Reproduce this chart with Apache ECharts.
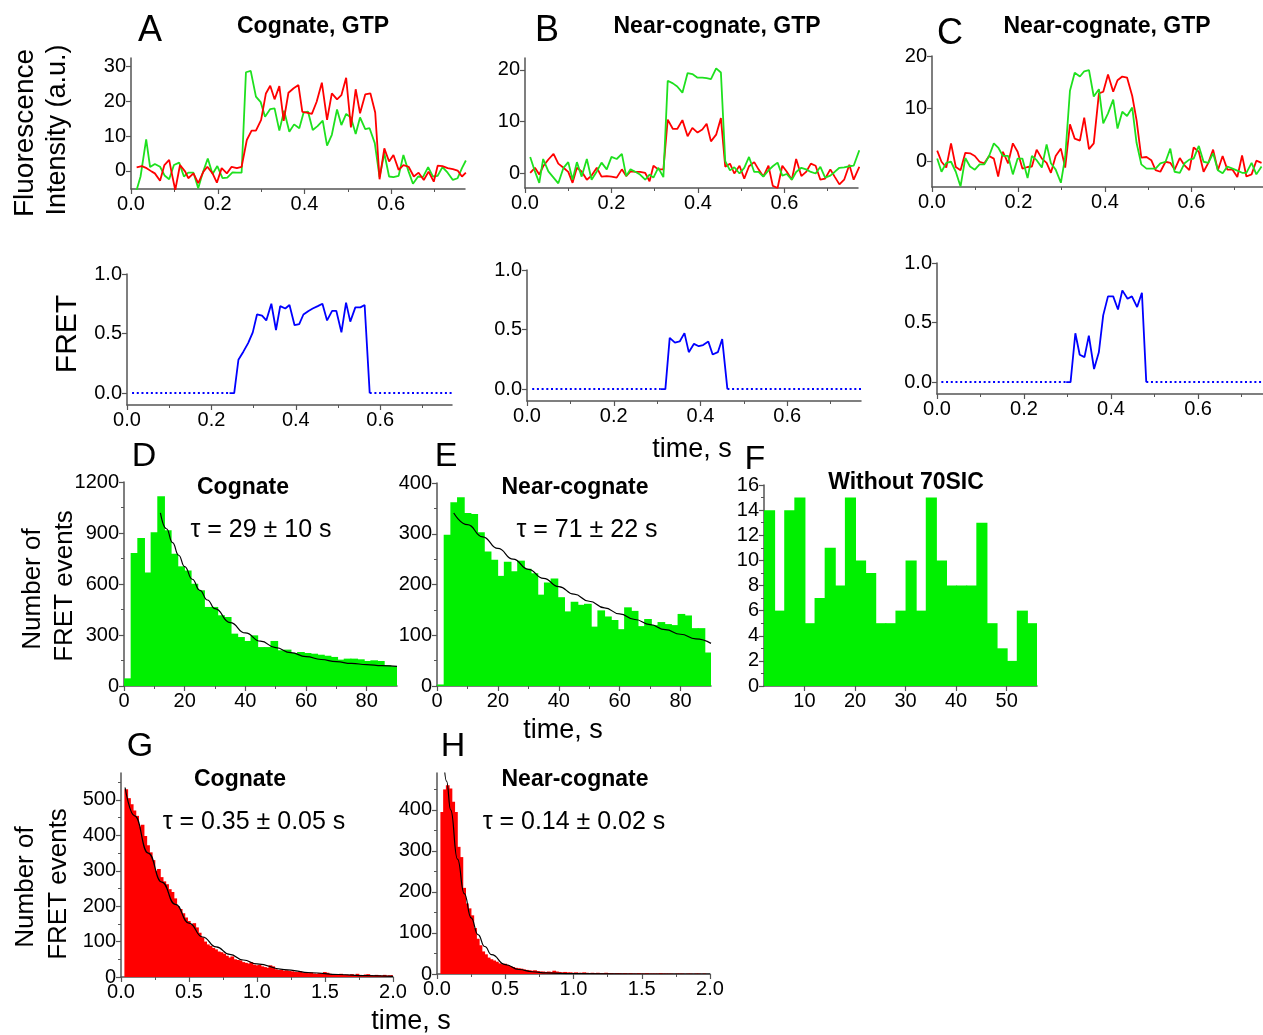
<!DOCTYPE html>
<html>
<head>
<meta charset="utf-8">
<script src="https://cdn.jsdelivr.net/npm/echarts@6/dist/echarts.min.js"></script>
<style>
  html, body { margin: 0; padding: 0; background: #fff; }
  #main { width: 1263px; height: 1035px; }
</style>
</head>
<body>
<div id="main"></div>
<script>
// ---- panel A, fluorescence (cognate) ----
var tA_red = [0.013,0.025,0.036,0.048,0.055,0.067,0.077,0.088,0.094,0.102,0.113,0.125,0.132,0.144,0.155,0.167,0.176,0.188,0.198,0.209,0.221,0.232,0.244,0.255,0.267,0.278,0.288,0.3,0.311,0.321,0.331,0.342,0.352,0.363,0.375,0.386,0.395,0.405,0.417,0.428,0.44,0.452,0.463,0.475,0.485,0.496,0.507,0.518,0.528,0.54,0.552,0.563,0.573,0.584,0.595,0.605,0.617,0.628,0.64,0.652,0.663,0.675,0.686,0.698,0.707,0.718,0.73,0.742,0.753,0.763,0.772];
var redA = [1.0,1.4,0.8,-0.2,-0.7,-2.8,1.7,3.2,-0.7,-5.5,1.7,-0.2,-2.1,-0.7,-3.5,-0.2,1.2,-0.7,-3.4,0.8,-0.7,1.2,0.8,1.2,8.9,11.6,11.6,14.7,22.3,24.5,20.6,24.4,14.4,22.5,23.8,24.7,17,16.8,16.4,19.9,25.4,14.7,22.3,20.6,21.8,26.8,12.5,23.5,16.6,22,22.3,16.8,-2.4,6.5,2.7,4.6,0.3,1.7,1.2,-1.6,-0.5,-2.6,-0.2,-3.1,1.5,1.4,0.8,0.5,0.1,-1.6,-0.5];
var tA_green = [0.013,0.022,0.035,0.044,0.055,0.067,0.078,0.088,0.099,0.111,0.122,0.132,0.144,0.155,0.165,0.177,0.188,0.199,0.211,0.222,0.234,0.244,0.255,0.265,0.276,0.288,0.299,0.309,0.321,0.331,0.342,0.353,0.365,0.376,0.388,0.398,0.408,0.419,0.43,0.442,0.452,0.463,0.475,0.485,0.496,0.507,0.518,0.528,0.54,0.55,0.562,0.573,0.584,0.595,0.605,0.617,0.628,0.64,0.65,0.662,0.673,0.685,0.696,0.707,0.718,0.73,0.742,0.753,0.763,0.772];
var greenA = [-5.5,-1.6,9.1,1.1,2.0,1.2,-1.4,-2.4,1.7,2.4,-1.6,-0.5,-0.5,-5.0,-0.7,3.6,-0.9,1.4,-2.1,-1.9,-0.4,-0.5,-0.5,28.4,28.8,21.4,19.8,15.6,17.8,18.0,11.6,17.3,11.3,13.4,12.3,16.8,17.1,11.8,12.9,14.5,7.3,10.4,17.7,13.2,16.4,15.4,10.6,15.4,12.0,12.3,8.0,-1.8,5.1,-1.6,-1.8,-1.4,4.6,-0.2,-3.7,-1.6,-1.8,1.1,-1.6,-1.4,1.1,-0.5,-2.6,-2.1,0.8,3.0];

// ---- panel B, fluorescence (near-cognate) ----
var tB = [0.012,0.023,0.033,0.042,0.054,0.066,0.077,0.089,0.1,0.11,0.12,0.131,0.143,0.154,0.166,0.177,0.189,0.2,0.212,0.224,0.234,0.244,0.256,0.266,0.278,0.288,0.297,0.308,0.32,0.33,0.342,0.352,0.364,0.376,0.387,0.399,0.41,0.42,0.43,0.442,0.453,0.463,0.474,0.484,0.496,0.507,0.518,0.53,0.54,0.551,0.563,0.573,0.584,0.595,0.605,0.617,0.627,0.639,0.65,0.661,0.672,0.683,0.694,0.706,0.716,0.727,0.738,0.75,0.76,0.773];
var redB = [0.1,1.1,-0.2,1.4,2.7,3.8,1.9,1.1,0.3,-1.8,1.1,0.4,-1.2,-0.4,1.1,-0.6,-0.5,-0.6,-0.8,0.8,-0.5,0.4,0.3,0.3,0.1,-1.5,1.5,0.8,0.8,10.4,8.6,8.6,10.3,7.2,8.8,7.9,8.5,9.6,6.2,7.5,10.7,1.3,1.9,0,1.5,-1.0,1.4,2.2,0.8,-0.6,1.5,-2.4,-2.8,1.5,0.4,-1.2,2.8,-0.5,0.3,1.9,1.5,-1.2,-1.0,0.8,-0.6,-2.1,-1.2,1.7,-1.2,1.3];
var greenB = [3.2,0.4,-1.8,2.8,0.4,-0.8,-1.9,1.1,2.2,-1.2,2.2,-0.6,2.8,-1.2,0.4,2.1,0.8,3.2,2.8,3.8,-0.5,0.8,0.3,-0.2,-1.2,-0.2,-0.8,1.1,-0.7,17.9,17.4,16.8,15.6,19.4,19.2,18.5,18.5,18.4,18.2,20.3,19.5,2.4,0.6,1.2,0,1.1,3.2,0.3,0.3,-0.6,0.6,1.4,2.1,-0.4,-0.1,-1.2,0.3,1.1,0.8,0.3,0,1.3,-0.8,-0.4,0.3,1.1,1.2,1.4,1.5,4.5];

// ---- panel C, fluorescence (near-cognate) ----
var tC = [0.012,0.022,0.033,0.044,0.055,0.066,0.077,0.088,0.099,0.11,0.121,0.132,0.143,0.153,0.164,0.176,0.187,0.198,0.209,0.221,0.231,0.242,0.254,0.265,0.275,0.286,0.298,0.308,0.319,0.33,0.342,0.352,0.363,0.374,0.386,0.396,0.407,0.419,0.429,0.44,0.451,0.463,0.473,0.484,0.496,0.507,0.517,0.528,0.54,0.551,0.561,0.573,0.584,0.595,0.605,0.617,0.628,0.639,0.65,0.661,0.672,0.683,0.695,0.706,0.717,0.727,0.739,0.75,0.762];
var redC = [2.0,-0.1,-1.2,3.4,-1.1,-1.7,1.6,1.5,1.0,-0.1,-0.4,1.0,0.5,-2.9,1.8,-0.4,3.4,1.8,-1.4,-1.1,-1.0,2.2,0.5,-0.3,-2.2,1.0,2.4,-1.2,7.0,4.3,3.9,8.3,2.3,3.4,12.9,13.2,16.5,13.2,15.4,16.1,15.9,12.4,7.8,0.7,0.8,0.2,-1.7,-2.0,-0.1,-0.3,-1.6,0.6,-0.8,-1.7,2.6,1.8,-2.0,-0.3,2.2,-1.7,1.0,-1.6,-1.6,-3.0,1.1,-2.9,-2.5,0.1,-0.3];
var greenC = [0.5,-2.0,-0.3,-0.1,-2.0,-4.8,0.6,-1.0,-1.6,-0.6,-0.6,1.0,3.4,2.6,1.0,1.0,-2.5,0.5,0.5,-3.2,1.0,0.2,-1.2,3.2,-0.4,-1.6,-4.1,0.8,13.4,16.8,16.1,17.1,17.3,12.3,13.7,7.2,9.1,11.7,6.2,9.4,8.6,10.2,3.5,-0.6,-1.4,-1.4,-1.4,-0.4,-0.1,2.4,-2.0,-2.2,-0.4,0.3,0.5,2.9,-0.1,-0.3,1.5,-1.7,-2.3,-1.0,-1.4,-1.8,-2.2,-2.2,-0.3,-2.5,-1.0];

// ---- FRET traces (solid part) and zero baselines (dotted) ----
var tFretA = [0.243,0.254,0.264,0.276,0.287,0.298,0.308,0.32,0.33,0.342,0.353,0.363,0.375,0.385,0.397,0.408,0.418,0.43,0.44,0.452,0.463,0.474,0.486,0.496,0.508,0.519,0.529,0.541,0.553,0.563,0.575];
var fretA = [0,0,0.28,0.35,0.42,0.51,0.66,0.65,0.61,0.75,0.53,0.73,0.71,0.74,0.57,0.58,0.66,0.69,0.71,0.73,0.75,0.61,0.69,0.69,0.51,0.76,0.6,0.72,0.72,0.74,0];
var tFretB = [0.308,0.319,0.329,0.341,0.352,0.363,0.373,0.385,0.396,0.406,0.418,0.428,0.44,0.45,0.462];
var fretB = [0,0,0.43,0.39,0.4,0.47,0.31,0.38,0.36,0.37,0.4,0.29,0.31,0.42,0];
var tFretC = [0.297,0.307,0.318,0.328,0.339,0.349,0.361,0.372,0.382,0.393,0.405,0.416,0.426,0.438,0.448,0.46,0.471,0.481];
var fretC = [0,0,0.41,0.23,0.21,0.39,0.11,0.25,0.56,0.72,0.72,0.61,0.77,0.7,0.72,0.63,0.75,0];
var baseA = [[0.012, 0.243], [0.575, 0.77]];
var baseB = [[0.012, 0.308], [0.462, 0.77]];
var baseC = [[0.01, 0.297], [0.481, 0.77]];

// ---- D, E: dwell-time histograms (41 bins over 0..90 s) ----
var binsDE = 41;
var countsD = [45,782,870,667,904,1116,916,778,704,680,602,563,465,465,416,406,308,288,265,298,229,229,265,210,214,194,200,194,190,184,178,171,155,161,161,157,147,151,147,122,116];
var countsE = [3,298,362,372,341,339,303,265,249,217,245,226,247,231,222,180,204,212,175,147,166,160,162,117,149,137,130,112,155,148,118,132,120,126,122,120,142,139,114,114,66];
var fitDx = [12,14,16,18,20,22.5,25,27.5,30,35,40,45,50,55,60,65,70,75,80,85,90];
var fitDy = [1018,925,843,769,702,628,563,506,455,373,312,264,226,196,173,156,143,133,126,120,115];
var fitEx = [5.5,10,15,20,25,30,35,40,45,50,55,60,65,70,75,80,85,90];
var fitEy = [341,318,294,271,250,230,212,196,181,167,154,142,131,121,111,102,93,84];

// ---- F: without 70SIC (bins of 2 s from 2 to 56) ----
var startF = 2, widthF = 2;
var countsF = [14,6,14,15,5,7,11,8,15,10,9,5,5,6,10,6,15,10,8,8,8,13,5,3,2,6,5];

// ---- G, H: short dwell histograms (bins of 0.02 s) ----
var startGH = 0.025, widthGH = 0.02;
var countsG = [530,505,488,470,455,425,430,398,372,352,330,300,305,282,270,262,248,240,222,200,192,180,168,158,148,152,140,125,112,100,92,88,82,78,72,70,66,60,55,58,50,48,47,42,40,38,42,35,33,34,30,28,26,33,30,22,20,21,18,19,17,16,15,14,16,13,12,11,13,10,9,11,10,14,12,9,8,8,7,9,6,7,6,8,5,9,6,5,7,8,5,4,6,5,4,6,4,5,5];
var countsH = [395,450,460,452,420,395,310,285,210,172,160,143,112,86,70,55,48,40,36,33,30,26,24,25,22,19,17,15,14,13,11,10,9,8,9,7,6,6,5,6,5,8,6,5,4,5,4,4,3,4,3,3,4,3,2,3,2,3,2,2,3,2,2,1,2,2,1,2,1,2,1,1,2,1,1,2,1,1,1,1,2,1,1,1,1,0,1,1,1,0,1,1,0,1,1,0,1,0,0];
var fitGx = [0.03,0.1,0.2,0.3,0.4,0.5,0.6,0.7,0.8,0.9,1.0,1.2,1.4,1.6,1.8,2.0];
var fitGy = [535,455,350,268,205,152,113,85,64,48,37,21,12,7,4,2];
var fitHx = [0.05,0.07,0.1,0.15,0.2,0.25,0.3,0.35,0.4,0.5,0.6,0.7,0.8,1.0,1.5,2.0];
var fitHy = [520,470,400,280,196,137,96,67,47,23,11,5.5,2.7,0.7,0,0];

// ---- tick labels ----
var ticksTime = [0, 0.2, 0.4, 0.6];
var ticksFluoA = [0, 10, 20, 30];
var ticksFluoBC = [0, 10, 20];
var ticksFret = [0, 0.5, 1.0];
var ticksDEx = [0, 20, 40, 60, 80];
var ticksFx = [10, 20, 30, 40, 50];
var ticksGHx = [0, 0.5, 1.0, 1.5, 2.0];
var ticksDy = [0, 300, 600, 900, 1200];
var ticksEy = [0, 100, 200, 300, 400];
var ticksFy = [0, 2, 4, 6, 8, 10, 12, 14, 16];
var ticksGy = [0, 100, 200, 300, 400, 500];
var ticksHy = [0, 100, 200, 300, 400];

var FONT = '"Liberation Sans", Arial, sans-serif';
var AXC = '#555';
var RED = '#ff0000', GREEN = '#1ee01e', BAR_GREEN = '#00f000', BLUE = '#0000ff';

function zip(xs, ys) {
  return xs.map(function (x, i) { return [x, ys[i]]; });
}

function axis(g, min, max, interval, labels, digits, minor) {
  var a = {
    type: 'value', gridIndex: g, min: min, max: max,
    axisLine: { show: true, onZero: false, lineStyle: { color: AXC, width: 1.5 } },
    axisTick: { show: true, length: 5, customValues: labels, lineStyle: { color: AXC, width: 1.2 } },
    minorTick: { show: !!minor, splitNumber: 2, length: 3, lineStyle: { color: AXC, width: 1 } },
    splitLine: { show: false },
    minorSplitLine: { show: false },
    axisLabel: {
      customValues: labels, color: '#000', fontSize: 20, fontFamily: FONT, margin: 5,
      formatter: function (v) { return Number(v).toFixed(digits); }
    }
  };
  if (interval) a.interval = interval;
  return a;
}

function trace(g, data, color) {
  return {
    type: 'line', xAxisIndex: g, yAxisIndex: g, data: data, showSymbol: false,
    lineStyle: { color: color, width: 1.8 }, itemStyle: { color: color }, clip: true
  };
}

function baseline(g, seg) {
  return {
    type: 'line', xAxisIndex: g, yAxisIndex: g, data: [[seg[0], 0], [seg[1], 0]], showSymbol: false,
    lineStyle: { color: BLUE, width: 2, type: [2, 2.7], cap: 'butt' }, clip: true
  };
}

function hist(g, start, width, counts, color) {
  var data = counts.map(function (c, i) { return [start + i * width, start + (i + 1) * width, c]; });
  return {
    type: 'custom', xAxisIndex: g, yAxisIndex: g, data: data, clip: true,
    encode: { x: [0, 1], y: 2 },
    renderItem: function (params, api) {
      var p0 = api.coord([api.value(0), api.value(2)]);
      var p1 = api.coord([api.value(1), 0]);
      return {
        type: 'rect',
        shape: { x: p0[0], y: p0[1], width: p1[0] - p0[0] + 1, height: p1[1] - p0[1] },
        style: { fill: color }
      };
    }
  };
}

function fit(g, xs, ys) {
  return {
    type: 'line', xAxisIndex: g, yAxisIndex: g, data: zip(xs, ys), showSymbol: false,
    smooth: 0.5, smoothMonotone: 'x', clip: true, z: 5,
    lineStyle: { color: '#000', width: 1.2 }
  };
}

function txt(x, y, s, size, bold, rot) {
  return {
    type: 'text', x: x, y: y, rotation: rot || 0, silent: true,
    style: {
      text: s, font: (bold ? 'bold ' : '') + size + 'px ' + FONT, fill: '#000',
      align: 'center', verticalAlign: 'middle', textAlign: 'center', textVerticalAlign: 'middle'
    }
  };
}

var grids = [
  { left: 131, top: 58, width: 334, height: 131 },   // A fluo
  { left: 525, top: 58, width: 333, height: 130 },   // B fluo
  { left: 932, top: 56, width: 333, height: 131 },   // C fluo
  { left: 127, top: 274, width: 325, height: 131 },  // A FRET
  { left: 527, top: 270, width: 334, height: 131 },  // B FRET
  { left: 937, top: 263, width: 335, height: 131 },  // C FRET
  { left: 124, top: 482, width: 273, height: 204 },  // D
  { left: 437, top: 483, width: 274, height: 203 },  // E
  { left: 764, top: 485, width: 273, height: 201 },  // F
  { left: 121, top: 773, width: 272, height: 204 },  // G
  { left: 437, top: 773, width: 273, height: 201 }   // H
];
grids.forEach(function (g) { g.outerBoundsMode = 'none'; g.containLabel = false; });

var xAxes = [
  axis(0, 0, 0.77, 0.2, ticksTime, 1, true),
  axis(1, 0, 0.77, 0.2, ticksTime, 1, true),
  axis(2, 0, 0.77, 0.2, ticksTime, 1, true),
  axis(3, 0, 0.77, 0.2, ticksTime, 1, true),
  axis(4, 0, 0.77, 0.2, ticksTime, 1, true),
  axis(5, 0, 0.77, 0.2, ticksTime, 1, true),
  axis(6, 0, 90, 20, ticksDEx, 0, true),
  axis(7, 0, 90, 20, ticksDEx, 0, true),
  axis(8, 2, 56, null, ticksFx, 0, false),
  axis(9, 0, 2, 0.5, ticksGHx, 1, true),
  axis(10, 0, 2, 0.5, ticksGHx, 1, true)
];
var yAxes = [
  axis(0, -5.2, 32.5, null, ticksFluoA, 0, false),
  axis(1, -2.8, 22.3, null, ticksFluoBC, 0, false),
  axis(2, -4.9, 20, null, ticksFluoBC, 0, false),
  axis(3, -0.1, 1.0, null, ticksFret, 1, false),
  axis(4, -0.1, 1.0, null, ticksFret, 1, false),
  axis(5, -0.1, 1.0, null, ticksFret, 1, false),
  axis(6, 0, 1200, 300, ticksDy, 0, true),
  axis(7, 0, 400, 100, ticksEy, 0, true),
  axis(8, 0, 16, 2, ticksFy, 0, true),
  axis(9, 0, 576, 100, ticksGy, 0, true),
  axis(10, 0, 490, 100, ticksHy, 0, true)
];

var series = [
  trace(0, zip(tA_green, greenA), GREEN),
  trace(0, zip(tA_red, redA), RED),
  trace(1, zip(tB, redB), RED),
  trace(1, zip(tB, greenB), GREEN),
  trace(2, zip(tC, redC), RED),
  trace(2, zip(tC, greenC), GREEN),
  baseline(3, baseA[0]), baseline(3, baseA[1]), trace(3, zip(tFretA, fretA), BLUE),
  baseline(4, baseB[0]), baseline(4, baseB[1]), trace(4, zip(tFretB, fretB), BLUE),
  baseline(5, baseC[0]), baseline(5, baseC[1]), trace(5, zip(tFretC, fretC), BLUE),
  hist(6, 0, 90 / binsDE, countsD, BAR_GREEN), fit(6, fitDx, fitDy),
  hist(7, 0, 90 / binsDE, countsE, BAR_GREEN), fit(7, fitEx, fitEy),
  hist(8, startF, widthF, countsF, BAR_GREEN),
  hist(9, startGH, widthGH, countsG, RED), fit(9, fitGx, fitGy),
  hist(10, startGH, widthGH, countsH, RED), fit(10, fitHx, fitHy)
];

var R = Math.PI / 2;
var graphics = [
  txt(150, 31, 'A', 36), txt(547, 31, 'B', 36), txt(950, 34, 'C', 36),
  txt(144, 457, 'D', 34), txt(446, 457, 'E', 34), txt(755, 460, 'F', 34),
  txt(140, 747, 'G', 34), txt(453, 747, 'H', 34),
  txt(313, 27, 'Cognate, GTP', 23, true),
  txt(717, 27, 'Near-cognate, GTP', 23, true),
  txt(1107, 27, 'Near-cognate, GTP', 23, true),
  txt(243, 488, 'Cognate', 23, true),
  txt(575, 488, 'Near-cognate', 23, true),
  txt(906, 483, 'Without 70SIC', 23, true),
  txt(240, 780, 'Cognate', 23, true),
  txt(575, 780, 'Near-cognate', 23, true),
  txt(261, 530, '\u03c4 = 29 \u00b1 10 s', 25),
  txt(587, 530, '\u03c4 = 71 \u00b1 22 s', 25),
  txt(254, 822, '\u03c4 = 0.35 \u00b1 0.05 s', 25),
  txt(574, 822, '\u03c4 = 0.14 \u00b1 0.02 s', 25),
  txt(25, 133, 'Fluorescence', 28, false, R),
  txt(58, 130, 'Intensity (a.u.)', 27, false, R),
  txt(68, 334, 'FRET', 30, false, R),
  txt(33, 589, 'Number of', 26, false, R),
  txt(65, 586, 'FRET events', 26, false, R),
  txt(26, 887, 'Number of', 26, false, R),
  txt(59, 884, 'FRET events', 26, false, R),
  txt(692, 450, 'time, s', 27),
  txt(563, 731, 'time, s', 27),
  txt(411, 1022, 'time, s', 27)
];

var chart = echarts.init(document.getElementById('main'), null, { renderer: 'canvas' });
chart.setOption({
  animation: false,
  backgroundColor: '#fff',
  grid: grids,
  xAxis: xAxes,
  yAxis: yAxes,
  series: series,
  graphic: graphics
});
</script>
</body>
</html>
